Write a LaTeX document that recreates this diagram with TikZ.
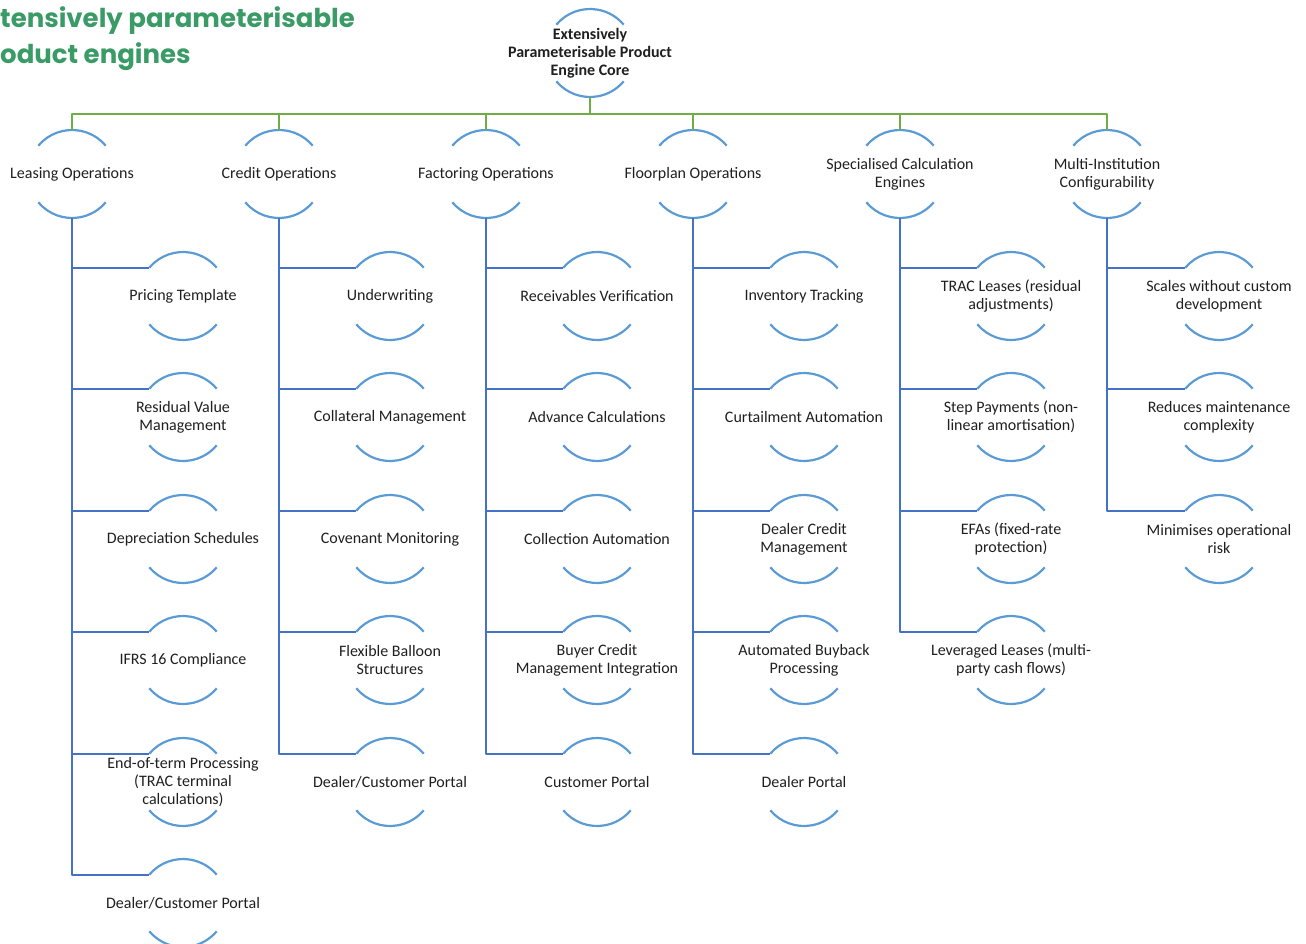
\documentclass[tikz,border=0pt]{standalone}
\usepackage{fontspec}
\setmainfont{Carlito}
\newfontfamily\titlefont{Poppins}
\usetikzlibrary{calc}

\definecolor{arcblue}{RGB}{91,155,213}
\definecolor{linkblue}{RGB}{68,114,196}
\definecolor{busgreen}{RGB}{112,173,71}
\definecolor{titlegreen}{RGB}{58,155,103}

\tikzset{
	txt/.style={align=center, inner sep=0pt, text=black!88, font=\fontsize{16}{18}\selectfont},
	ring/.style={draw=arcblue, line width=2.2pt},
	link/.style={draw=linkblue, line width=2.2pt},
	bus/.style={draw=busgreen, line width=2.2pt},
	title/.style={anchor=base west, inner sep=0pt, text=titlegreen, font=\titlefont\bfseries\fontsize{26}{36}\selectfont}
}

% name, position, text
\newcommand{\bubble}[3]{%
	\node[txt] (#1) at (#2) {#3};
	\coordinate (#1-t) at ($(#1.center)+(0,44)$);
	\coordinate (#1-b) at ($(#1.center)+(0,-44)$);
	\coordinate (#1-w) at ($(#1.center)+(140:44)$);
	\draw[ring] (#1-w) arc[start angle=140, end angle=40, radius=44];
	\draw[ring] ($(#1.center)+(-140:44)$) arc[start angle=-140, end angle=-40, radius=44];
}

\begin{document}
\begin{tikzpicture}[x=1pt, y=1pt, line join=round]
	\useasboundingbox (0,0) rectangle (1306,-944);
	% title
	\node[title] (title1) at (0,-28) {tensively parameterisable};
	\node[title] (title2) at (0,-64) {oduct engines};
	% core and branches
	\bubble{core}{590,-53}{\textbf{Extensively}\\\textbf{Parameterisable Product}\\\textbf{Engine Core}}
	\bubble{lease}{72,-174}{Leasing Operations}
	\bubble{credit}{279,-174}{Credit Operations}
	\bubble{factor}{486,-174}{Factoring Operations}
	\bubble{floor}{693,-174}{Floorplan Operations}
	\bubble{calc}{900,-174}{Specialised Calculation\\Engines}
	\bubble{multi}{1107,-174}{Multi-Institution\\Configurability}
	% leasing
	\bubble{lease1}{183,-296}{Pricing Template}
	\bubble{lease2}{183,-417}{Residual Value\\Management}
	\bubble{lease3}{183,-539}{Depreciation Schedules}
	\bubble{lease4}{183,-660}{IFRS 16 Compliance}
	\bubble{lease5}{183,-782}{End-of-term Processing\\(TRAC terminal\\calculations)}
	\bubble{lease6}{183,-903}{Dealer/Customer Portal}
	% credit
	\bubble{credit1}{390,-296}{Underwriting}
	\bubble{credit2}{390,-417}{Collateral Management}
	\bubble{credit3}{390,-539}{Covenant Monitoring}
	\bubble{credit4}{390,-660}{Flexible Balloon\\Structures}
	\bubble{credit5}{390,-782}{Dealer/Customer Portal}
	% factoring
	\bubble{factor1}{597,-296}{Receivables Verification}
	\bubble{factor2}{597,-417}{Advance Calculations}
	\bubble{factor3}{597,-539}{Collection Automation}
	\bubble{factor4}{597,-660}{Buyer Credit\\Management Integration}
	\bubble{factor5}{597,-782}{Customer Portal}
	% floorplan
	\bubble{floor1}{804,-296}{Inventory Tracking}
	\bubble{floor2}{804,-417}{Curtailment Automation}
	\bubble{floor3}{804,-539}{Dealer Credit\\Management}
	\bubble{floor4}{804,-660}{Automated Buyback\\Processing}
	\bubble{floor5}{804,-782}{Dealer Portal}
	% calculation engines
	\bubble{calc1}{1011,-296}{TRAC Leases (residual\\adjustments)}
	\bubble{calc2}{1011,-417}{Step Payments (non-\\linear amortisation)}
	\bubble{calc3}{1011,-539}{EFAs (fixed-rate\\protection)}
	\bubble{calc4}{1011,-660}{Leveraged Leases (multi-\\party cash flows)}
	% multi-institution
	\bubble{multi1}{1219,-296}{Scales without custom\\development}
	\bubble{multi2}{1219,-417}{Reduces maintenance\\complexity}
	\bubble{multi3}{1219,-539}{Minimises operational\\risk}
	% connectors
	\coordinate (bus) at ($(core-b)+(0,-17)$);
	\foreach \b in {lease,credit,factor,floor,calc,multi}
		\draw[bus] (core-b) -- (bus) -| (\b-t);
	\foreach \b/\n in {lease/6,credit/5,factor/5,floor/5,calc/4,multi/3}
		\foreach \i in {1,...,\n}
			\draw[link] (\b-b) |- (\b\i-w);
\end{tikzpicture}
\end{document}
